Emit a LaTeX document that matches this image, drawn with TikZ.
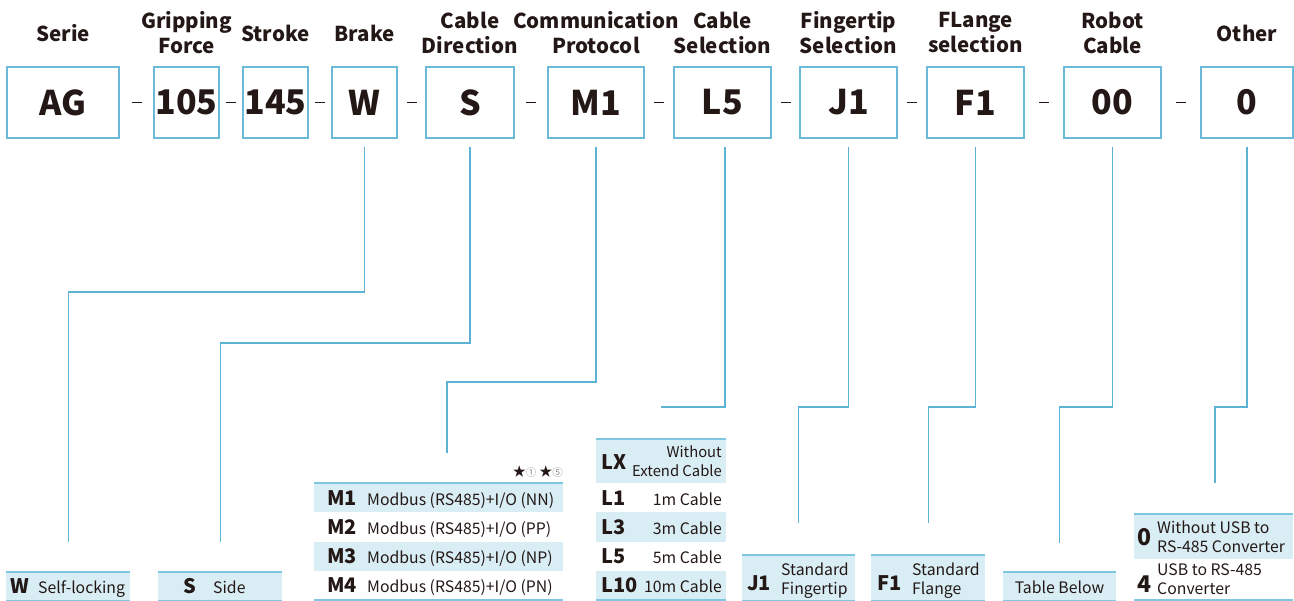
\documentclass[tikz,border=0pt]{standalone}
\usepackage{fontspec}
\setmainfont{Noto Sans CJK SC}
\usetikzlibrary{calc}
\definecolor{boxc}{HTML}{6CBAD9}
\definecolor{linec}{HTML}{5DB3D6}
\definecolor{fillc}{HTML}{D9EDF5}
\definecolor{tabc}{HTML}{7FC6E0}
\definecolor{txt}{HTML}{231816}
\definecolor{note}{HTML}{8A8A8A}
\begin{document}
\begin{tikzpicture}[x=1pt,y=-1pt,
  topbox/.style={draw=boxc, line width=1.3pt, minimum height=71pt, inner sep=0pt,
    font=\fontsize{34}{34}\selectfont\bfseries, text=txt},
  head/.style={font=\fontsize{20.5}{25}\selectfont\bfseries, align=center, text=txt, inner sep=0pt},
  conn/.style={draw=linec, line width=1.3pt},
  sepline/.style={draw=txt, line width=1.3pt},
  code/.style={font=\fontsize{20}{20}\selectfont\bfseries, text=txt, inner sep=0pt},
  bigcode/.style={font=\fontsize{23}{23}\selectfont\bfseries, text=txt, inner sep=0pt},
  desc/.style={font=\fontsize{15.8}{19}\selectfont, text=txt, inner sep=0pt},
  rowbox/.style={fill=fillc, draw=none, inner sep=0pt, anchor=north west},
  tabline/.style={draw=tabc, line width=1.5pt}
]
\useasboundingbox (0,0) rectangle (1294,601);

% ---------- headers ----------
\node[head] (hserie) at (63,33) {Serie};
\node[head] (hgrip) at (186.5,32.5) {Gripping\\Force};
\node[head] (hstroke) at (275.5,33) {Stroke};
\node[head] (hbrake) at (364.5,33) {Brake};
\node[head] (hdir) at (470,32.5) {Cable\\Direction};
\node[head] (hcom) at (596,32.5) {Communication\\Protocol};
\node[head] (hcab) at (722.5,32.5) {Cable\\Selection};
\node[head] (hfin) at (848.5,32.5) {Fingertip\\Selection};
\node[head] (hfla) at (975.5,32.5) {FLange\\selection};
\node[head] (hrob) at (1112.5,32.5) {Robot\\Cable};
\node[head] (hoth) at (1247,33) {Other};

% ---------- top boxes ----------
\node[topbox, minimum width=112pt] (ag) at (63,102.5) {AG};
\node[topbox, minimum width=65pt] (g105) at (186.5,102.5) {105};
\node[topbox, minimum width=65pt] (s145) at (275.5,102.5) {145};
\node[topbox, minimum width=65pt] (nw) at (364.5,102.5) {W};
\node[topbox, minimum width=88pt] (ns) at (470,102.5) {S};
\node[topbox, minimum width=96pt] (m1) at (596,102.5) {M1};
\node[topbox, minimum width=97pt] (l5) at (722.5,102.5) {L5};
\node[topbox, minimum width=97pt] (j1) at (848.5,102.5) {J1};
\node[topbox, minimum width=97pt] (f1) at (975.5,102.5) {F1};
\node[topbox, minimum width=97pt] (rc) at (1112.5,102.5) {00};
\node[topbox, minimum width=92pt] (oth) at (1247,102.5) {0};

\foreach \a/\b in {ag/g105, g105/s145, s145/nw, nw/ns, ns/m1, m1/l5, l5/j1, j1/f1, f1/rc, rc/oth}
  \draw[sepline] ($(\a.east)!0.5!(\b.west)+(-5,0)$) -- ++(10,0);

% ---------- bottom: W ----------
\node[rowbox, minimum width=124pt, minimum height=28pt] (bw) at (6,572) {};
\draw[tabline] (bw.north west) -- (bw.north east);
\draw[tabline] (bw.south west) -- (bw.south east);
\node[code, anchor=base] (bwc) at (20,593) {W};
\node[desc, anchor=base west] (bwd) at (38,593) {Self-locking};

% ---------- bottom: S ----------
\node[rowbox, minimum width=124pt, minimum height=28pt] (bs) at (158,572) {};
\draw[tabline] (bs.north west) -- (bs.north east);
\draw[tabline] (bs.south west) -- (bs.south east);
\node[code, anchor=base] (bsc) at (190,593) {S};
\node[desc, anchor=base west] (bsd) at (213,593) {Side};

% ---------- bottom: M table ----------
\node[rowbox, minimum width=249pt, minimum height=29.25pt] (mr1) at (314,483) {};
\node[rowbox, minimum width=249pt, minimum height=29.25pt] (mr3) at (314,541.5) {};
\coordinate (mtl) at (314,483);
\coordinate (mtr) at (563,483);
\coordinate (mbl) at (314,600);
\coordinate (mbr) at (563,600);
\draw[tabline] (mtl) -- (mtr);
\draw[tabline] (mbl) -- (mbr);
\node[anchor=base east, inner sep=0pt, text=txt] (mstar) at (563,477)
  {{\fontsize{13}{13}\selectfont ★}{\fontsize{10.5}{10.5}\selectfont\color{note}①}\hspace{3pt}{\fontsize{13}{13}\selectfont ★}{\fontsize{10.5}{10.5}\selectfont\color{note}⑤}};
\node[code, anchor=base west] (mc1) at (327,505.5) {M1};
\node[code, anchor=base west] (mc2) at (327,534.5) {M2};
\node[code, anchor=base west] (mc3) at (327,563.5) {M3};
\node[code, anchor=base west] (mc4) at (327,592.5) {M4};
\node[desc, anchor=base west] (md1) at (367,505.5) {Modbus (RS485)+I/O (NN)};
\node[desc, anchor=base west] (md2) at (367,534.5) {Modbus (RS485)+I/O (PP)};
\node[desc, anchor=base west] (md3) at (367,563.5) {Modbus (RS485)+I/O (NP)};
\node[desc, anchor=base west] (md4) at (367,592.5) {Modbus (RS485)+I/O (PN)};

% ---------- bottom: L table ----------
\node[rowbox, minimum width=130pt, minimum height=44pt] (lrx) at (596,439) {};
\node[rowbox, minimum width=130pt, minimum height=29.25pt] (lr3) at (596,512.25) {};
\node[rowbox, minimum width=130pt, minimum height=29.25pt] (lr10) at (596,570.75) {};
\coordinate (ltl) at (596,439);
\coordinate (ltr) at (726,439);
\coordinate (lbl) at (596,600);
\coordinate (lbr) at (726,600);
\draw[tabline] (ltl) -- (ltr);
\draw[tabline] (lbl) -- (lbr);
\node[code, anchor=base west] (lcx) at (601,470) {LX};
\node[desc, font=\fontsize{14.8}{19}\selectfont, anchor=base east] (ldx1) at (722,458) {Without};
\node[desc, font=\fontsize{14.8}{19}\selectfont, anchor=base east] (ldx2) at (722,477) {Extend Cable};
\node[code, anchor=base west] (lc1) at (601,505.5) {L1};
\node[code, anchor=base west] (lc3) at (601,534.5) {L3};
\node[code, anchor=base west] (lc5) at (601,563.5) {L5};
\node[code, anchor=base west] (lc10) at (601,592.5) {L10};
\node[desc, anchor=base east] (ld1) at (722,505.5) {1m Cable};
\node[desc, anchor=base east] (ld3) at (722,534.5) {3m Cable};
\node[desc, anchor=base east] (ld5) at (722,563.5) {5m Cable};
\node[desc, anchor=base east] (ld10) at (722,592.5) {10m Cable};

% ---------- bottom: J1 ----------
\node[rowbox, minimum width=113pt, minimum height=45pt] (bj) at (742,555) {};
\draw[tabline] (bj.north west) -- (bj.north east);
\draw[tabline] (bj.south west) -- (bj.south east);
\node[code, anchor=base] (bjc) at (759,590) {J1};
\node[desc, anchor=base west] (bjd1) at (781,575) {Standard};
\node[desc, anchor=base west] (bjd2) at (781,594) {Fingertip};

% ---------- bottom: F1 ----------
\node[rowbox, minimum width=114pt, minimum height=45pt] (bf) at (871,555) {};
\draw[tabline] (bf.north west) -- (bf.north east);
\draw[tabline] (bf.south west) -- (bf.south east);
\node[code, anchor=base] (bfc) at (890,590) {F1};
\node[desc, anchor=base west] (bfd1) at (912,575) {Standard};
\node[desc, anchor=base west] (bfd2) at (912,594) {Flange};

% ---------- bottom: Robot cable ----------
\node[rowbox, minimum width=113pt, minimum height=28pt] (bt) at (1003,572) {};
\draw[tabline] (bt.north west) -- (bt.north east);
\draw[tabline] (bt.south west) -- (bt.south east);
\node[desc, anchor=base] (btd) at (1059.5,593) {Table Below};

% ---------- bottom: Other ----------
\node[rowbox, minimum width=159pt, minimum height=45pt] (bo) at (1134,514) {};
\coordinate (obl) at (1134,600);
\coordinate (obr) at (1293,600);
\draw[tabline] (bo.north west) -- (bo.north east);
\draw[tabline] (obl) -- (obr);
\node[bigcode, anchor=base] (boc0) at (1144,545) {0};
\node[desc, anchor=base west] (bod1) at (1157,533) {Without USB to};
\node[desc, anchor=base west] (bod2) at (1157,552) {RS-485 Converter};
\node[bigcode, anchor=base] (boc4) at (1144,592) {4};
\node[desc, anchor=base west] (bod3) at (1157,575) {USB to RS-485};
\node[desc, anchor=base west] (bod4) at (1157,594) {Converter};

% ---------- connectors ----------
\coordinate (m1end) at (447,453);
\coordinate (l5end) at (661,407);
\coordinate (oend) at (1215,483);
\draw[conn] ([yshift=-8pt]nw.south) |- (bw.north |- 0,292) -- ([yshift=30pt]bw.north);
\draw[conn] ([yshift=-8pt]ns.south) |- (bs.north |- 0,343) -- ([yshift=30pt]bs.north);
\draw[conn] ([yshift=-8pt]m1.south) |- (m1end |- 0,382) -- (m1end);
\draw[conn] ([yshift=-8pt,xshift=2.5pt]l5.south) |- (l5end);
\draw[conn] ([yshift=-8pt]j1.south) |- (bj.north |- 0,407) -- ([yshift=32pt]bj.north);
\draw[conn] ([yshift=-8pt]f1.south) |- (bf.north |- 0,407) -- ([yshift=32pt]bf.north);
\draw[conn] ([yshift=-8pt]rc.south) |- (bt.north |- 0,407) -- ([yshift=29pt]bt.north);
\draw[conn] ([yshift=-8pt]oth.south) |- (oend |- 0,407) -- (oend);
\end{tikzpicture}
\end{document}
